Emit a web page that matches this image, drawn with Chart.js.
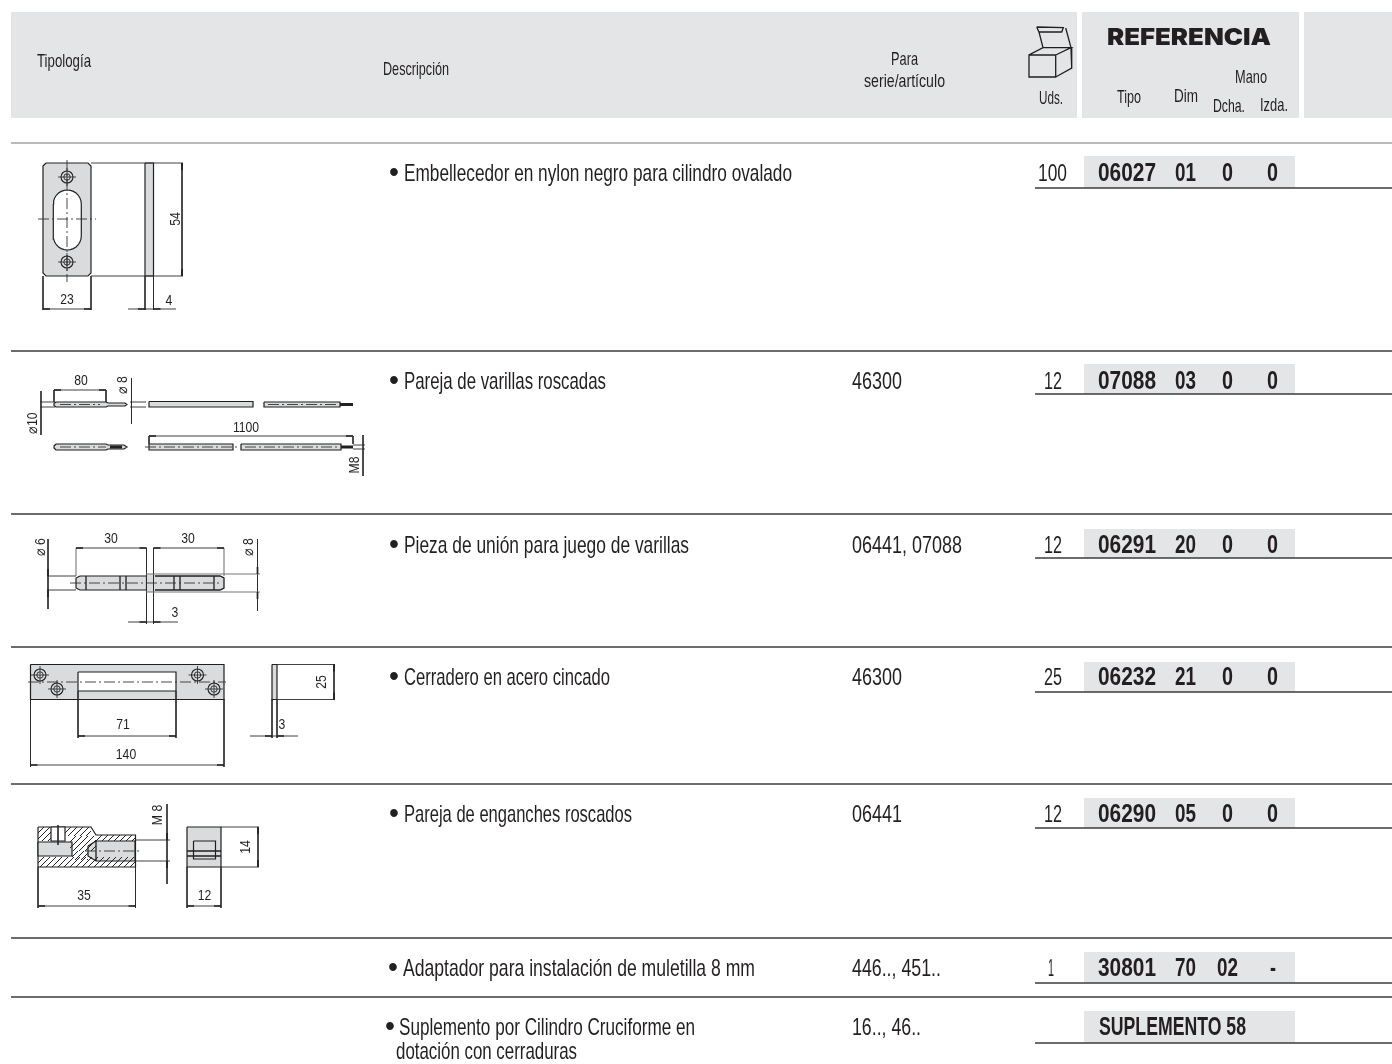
<!DOCTYPE html>
<html lang="es">
<head>
<meta charset="utf-8">
<title>Referencias</title>
<script src="https://cdn.jsdelivr.net/npm/chart.js@4"></script>
<style>
  html, body { margin: 0; padding: 0; background: #fff; }
  canvas { display: block; }
</style>
</head>
<body>
<canvas id="sheet" width="1392" height="1064"></canvas>
<script>
// ── table content ───────────────────────────────────────────────────────────
const descripcion = [
  "Embellecedor en nylon negro para cilindro ovalado",
  "Pareja de varillas roscadas",
  "Pieza de unión para juego de varillas",
  "Cerradero en acero cincado",
  "Pareja de enganches roscados",
  "Adaptador para instalación de muletilla 8 mm",
  "Suplemento por Cilindro Cruciforme en",
];
const descripcionExtra = "dotación con cerraduras";
const serie = ["", "46300", "06441, 07088", "46300", "06441", "446.., 451..", "16.., 46.."];
const uds   = ["100", "12", "12", "25", "12", "1", ""];
const tipo  = ["06027", "07088", "06291", "06232", "06290", "30801"];
const dim   = ["01", "03", "20", "21", "05", "70"];
const dcha  = ["0", "0", "0", "0", "0", "02"];
const izda  = ["0", "0", "0", "0", "0", "-"];
const suplemento = "SUPLEMENTO 58";

// ── layout, page units are px ───────────────────────────────────────────────
const W = 1392, H = 1064;
const rowRules = [143, 351, 514, 647, 784, 938, 997];
const rowText  = [174, 382, 546, 678, 815, 969, 1028];
const descEnd  = [792, 606, 689, 610, 632, 755, 695];
const descStart= [404, 404, 404, 404, 404, 403, 399];
const bulletX  = [389, 389, 389, 389, 389, 388, 385];
const serieEnd = [0, 902, 962, 902, 902, 941, 921];
const udsBox   = [[1038,1067],[1044,1062],[1044,1062],[1044,1062],[1044,1062],[1048,1054]];

const BAND = "#e4e5e7", PART = "#d9dbdc", INK = "#231f20";
const BODY = '"Liberation Sans Narrow", "Liberation Sans", sans-serif';
const DIM  = '"Liberation Sans", sans-serif';

const datasets = [];
const strokes = {
  rule:   { color: "#3d3d3d", width: 1.4 },
  thin:   { color: "#2b2b2b", width: 0.9 },
  soft:   { color: "#777777", width: 1.1 },
  edge:   { color: "#1f1f1f", width: 1.3 },
  axis:   { color: "#333333", width: 0.9, dash: [11, 3, 2, 3] },
  arrow:  { color: "#222222", width: 1.7 },
  hatch:  { color: "#222222", width: 1 },
  thread: { color: "#222222", width: 3 },
};
const strokeData = Object.fromEntries(Object.keys(strokes).map(k => [k, []]));

function poly(pts, fill, stroke) {
  const closed = pts.concat([pts[0]]).map(p => ({ x: p[0], y: p[1] }));
  datasets.push({
    data: closed, showLine: true, tension: 0, pointRadius: 0, spanGaps: false,
    fill: "shape", backgroundColor: fill,
    borderColor: stroke || "transparent", borderWidth: stroke ? 1.2 : 0,
  });
}
function rect(x0, y0, x1, y1, fill, stroke) {
  poly([[x0,y0],[x1,y0],[x1,y1],[x0,y1]], fill, stroke);
}
function line(style, ...c) {
  const d = strokeData[style];
  for (let i = 0; i < c.length; i += 2) d.push({ x: c[i], y: c[i+1] });
  d.push({ x: null, y: null });
}
function arrowH(x, y, dir) { line("arrow", x, y, x + dir*7, y); }
function arrowV(x, y, dir) { line("arrow", x, y, x, y + dir*7); }
function dimH(x0, x1, y) { line("thin", x0, y, x1, y); arrowH(x0, y, 1); arrowH(x1, y, -1); }
function dimV(x, y0, y1) { line("thin", x, y0, x, y1); arrowV(x, y0, 1); arrowV(x, y1, -1); }
function arc(cx, cy, r, from, to, n) {
  const out = [];
  for (let i = 0; i <= n; i++) {
    const a = (from + (to - from)*i/n) * Math.PI/180;
    out.push([cx + r*Math.cos(a), cy + r*Math.sin(a)]);
  }
  return out;
}
// diagonal section lines clipped to a box
function hatch(x0, y0, x1, y1, step) {
  for (let s = x0 + y0 + step; s < x1 + y1; s += step) {
    const ax = Math.max(x0, s - y1), ay = s - ax;
    const bx = Math.min(x1, s - y0), by = s - bx;
    if (bx > ax) line("hatch", ax, ay, bx, by);
  }
}

const holes = [[67,177],[67,262],[40,675],[57,689],[197.5,675],[214,689]];

// header bands
rect(11, 12, 1077, 118, BAND);
rect(1082, 12, 1299, 118, BAND);
rect(1304, 12, W, 118, BAND);

// reference cells and rules
[[156,188],[364,394],[529,558],[662,692],[798,828],[952,983],[1011,1043]].forEach(r => {
  rect(1084, r[0], 1295, r[1], BAND);
  line("rule", 1035, r[1], W, r[1]);
});
rowRules.forEach((y, i) => line(i ? "rule" : "soft", 11, y, W, y));

// box icon
line("edge", 1029,55, 1055.7,55, 1055.7,77, 1029,77, 1029,55, 1043,47.7, 1071,47.7, 1055.7,55);
line("edge", 1071,47.7, 1071.7,68, 1055.7,77);
line("edge", 1036.7,27, 1063.3,27.7, 1061.7,32, 1039,32, 1036.7,27);
line("edge", 1039,32, 1043,47.7);
line("edge", 1065.7,28, 1071,47.7);

// --- escutcheon
poly([[46,163],[88,163],[91,166],[91,273],[88,276],[46,276],[43,273],[43,166]], PART, "#222");
poly(arc(67.3,204,14,180,360,14).concat(arc(67.3,236,14,0,180,14)), "#fff", "#222");
rect(145, 163, 153.5, 276, PART, "#222");
line("thin", 91,163, 183,163); line("thin", 91,276, 183,276);
line("axis", 67,160, 67,282); line("axis", 38,219, 96,219);
dimV(182, 163, 276);
line("thin", 43,276, 43,310); line("thin", 91,276, 91,310);
dimH(43, 91, 309);
line("thin", 145,276, 145,310); line("thin", 153.5,276, 153.5,310);
line("thin", 128,309, 176,309); arrowH(145,309,-1); arrowH(153.5,309,1);

// --- threaded rods
poly([[56,402],[106,402],[108,403],[125,403],[127,404.5],[125,406],[108,406],[106,407],[56,407],[54,405.5],[54,403.5]], PART, "#1f1f1f");
rect(149, 401.5, 253, 407, PART, "#1f1f1f");
rect(264, 402, 340, 407, PART, "#1f1f1f");
line("thread", 340,404.5, 353,404.5);
poly([[56,444],[106,444],[108,445],[124,445],[127,447],[124,449],[108,449],[106,450],[56,450],[54,448],[54,446]], PART, "#1f1f1f");
line("thread", 110,447, 122,447);
rect(149, 444, 233, 450, PART, "#1f1f1f");
rect(241, 444, 341, 450, PART, "#1f1f1f");
line("thread", 341,447, 353,447);
line("axis", 60,404.5, 100,404.5); line("axis", 268,404.5, 338,404.5);
line("axis", 60,447, 106,447); line("axis", 145,447, 238,447); line("axis", 245,447, 340,447);
line("thin", 40,402, 55,402); line("thin", 40,407, 55,407); line("thin", 41,391, 41,435);
line("thin", 54,390, 54,402); line("thin", 106,390, 106,402); dimH(54, 106, 390);
line("thin", 130,402, 146,402); line("thin", 130,407, 146,407); line("thin", 131.5,378, 131.5,424);
line("thin", 149,436, 149,444); line("thin", 353,436, 353,444); dimH(149, 353, 436);
line("thin", 353,445, 365,445); line("thin", 353,449, 365,449); line("thin", 363,435, 363,476);

// --- joining piece
poly([[80,576],[146.5,576],[146.5,590],[80,590],[76,588],[76,578]], PART, "#1f1f1f");
rect(146.5, 574, 155, 592, PART);
poly([[155,576],[220,576],[224,578],[224,588],[220,590],[155,590]], PART);
line("edge", 155,576, 220,576, 224,578, 224,588, 220,590, 155,590);
[86,120,126,174,180,214].forEach(x => line("edge", x,576, x,590));
line("axis", 70,583, 220,583);
line("thin", 47,576, 76,576); line("thin", 47,590, 76,590);
line("soft", 146,574, 260,574); line("soft", 146,592, 260,592);
line("thin", 48,539, 48,609); arrowV(48,576,-1); arrowV(48,590,1);
line("thin", 257.5,539, 257.5,611); arrowV(257.5,574,-1); arrowV(257.5,592,1);
line("soft", 76,548, 76,576); line("soft", 224,548, 224,576);
line("thin", 146.5,548, 146.5,624); line("thin", 153.5,548, 153.5,624);
dimH(76, 146.5, 548); dimH(153.5, 224, 548);
line("thin", 128,622, 178,622); arrowH(146.5,622,-1); arrowH(153.5,622,1);

// --- strike plate
rect(30.5, 664.5, 224, 699.5, PART, "#1f1f1f");
poly([[78,672],[176,672],[176,691],[78,691]], "#fff", "#1f1f1f");
line("axis", 28,682, 226,682);
line("thin", 30.5,699, 30.5,767); line("thin", 224,699, 224,767);
line("thin", 78,691, 78,738); line("thin", 176,691, 176,738);
dimH(78, 176, 736); dimH(30.5, 224, 765);
rect(272, 664.5, 277, 699.5, PART, "#1f1f1f");
line("thin", 277,664.5, 335,664.5); line("thin", 277,699.5, 335,699.5);
dimV(334, 664.5, 699.5);
line("thin", 272,699, 272,738); line("thin", 277,699, 277,738);
line("thin", 250,736, 298,736); arrowH(272,736,-1); arrowH(277,736,1);

// --- threaded hook
poly([[38,827],[91,827],[96,835],[135.5,835],[135.5,867],[38,867]], "#fff", "#1f1f1f");
hatch(38,827,51,841,6); hatch(65,827,91,836,6); hatch(70,836,96,851,6); hatch(72,851,88,860,6);
hatch(96,835,135.5,841,6); hatch(38,857,135.5,867,6);
rect(38, 842, 72, 856, PART, "#1f1f1f");
poly([[88,846],[96,841],[135,841],[135,861],[96,861],[88,856]], PART, "#1f1f1f");
rect(51, 827, 65, 841, "#fff", "#1f1f1f");
line("edge", 96,841, 96,861);
line("thin", 58,825, 58,845);
line("axis", 85,851, 141,851);
line("thin", 135,840, 170,840); line("thin", 135,861, 170,861);
line("thin", 167,804, 167,884); arrowV(167,840,-1); arrowV(167,861,1);
line("thin", 38,867, 38,908); line("thin", 135.5,867, 135.5,908);
dimH(38, 135.5, 906);
rect(187, 827, 221, 867, PART, "#1f1f1f");
rect(193.5, 841, 215.5, 859, PART, "#1f1f1f");
line("edge", 187,851, 221,851); line("edge", 187,856, 221,856);
line("thin", 221,827, 259,827); line("thin", 221,867, 259,867);
dimV(258, 827, 867);
line("thin", 187,867, 187,908); line("thin", 221,867, 221,908);
dimH(187, 221, 906);

// stroke groups go above the fills
Object.keys(strokes).forEach(k => {
  const s = strokes[k];
  datasets.push({
    data: strokeData[k], showLine: true, tension: 0, pointRadius: 0, spanGaps: false,
    fill: false, borderColor: s.color, borderWidth: s.width, borderDash: s.dash || [],
  });
});
// mounting holes: rings and crosshairs through the scatter point styles
datasets.push({ data: holes.map(h => ({x:h[0],y:h[1]})), showLine: false, pointStyle: "cross",
  pointRadius: 9, pointBorderWidth: 0.8, pointBorderColor: "#222" });
datasets.push({ data: holes.map(h => ({x:h[0],y:h[1]})), showLine: false, pointStyle: "circle",
  pointRadius: 6, pointBorderWidth: 1.1, pointBorderColor: "#222", pointBackgroundColor: "transparent" });
datasets.push({ data: holes.map(h => ({x:h[0],y:h[1]})), showLine: false, pointStyle: "circle",
  pointRadius: 3.2, pointBorderWidth: 0.9, pointBorderColor: "#222", pointBackgroundColor: "transparent" });
datasets.forEach((d, i) => { d.order = -i; });

// ── text ────────────────────────────────────────────────────────────────────
const labels = [];
function label(text, x0, x1, y, size, opts) {
  labels.push(Object.assign({ text, x0, x1, y, size, family: BODY, weight: "normal", rot: 0 }, opts));
}
const BOLD = { weight: "bold" };
const S_HEAD = 19, S_BODY = 24, S_REF = 25;

label("Tipología", 37, 91, 62, S_HEAD);
label("Descripción", 383, 449, 70, S_HEAD);
label("Para", 891, 918, 60, S_HEAD);
label("serie/artículo", 864, 945, 82, S_HEAD);
label("Uds.", 1039, 1063, 99, S_HEAD);
label("REFERENCIA", 1107, 1271, 38, 23, { weight: "900", family: 'Inter, "DejaVu Sans", sans-serif' });
label("Mano", 1235, 1267, 78, S_HEAD);
label("Tipo", 1117, 1141, 98, S_HEAD);
label("Dim", 1174, 1198, 97, S_HEAD);
label("Dcha.", 1213, 1245, 107, S_HEAD);
label("Izda.", 1260, 1288, 106, S_HEAD);

descripcion.forEach((t, i) => {
  label("•", bulletX[i], bulletX[i] + 10, rowText[i], 30, { family: DIM });
  label(t, descStart[i], descEnd[i], rowText[i], S_BODY);
  if (serie[i]) label(serie[i], 852, serieEnd[i], rowText[i], S_BODY);
  if (uds[i]) label(uds[i], udsBox[i][0], udsBox[i][1], rowText[i], S_BODY);
});
label(descripcionExtra, 396, 577, 1052, S_BODY);
tipo.forEach((t, i) => {
  label(t, 1098, 1156, rowText[i], S_REF, BOLD);
  label(dim[i], 1175, 1196, rowText[i], S_REF, BOLD);
  if (dcha[i].length > 1) label(dcha[i], 1217, 1238, rowText[i], S_REF, BOLD);
  else label(dcha[i], 1222, 1233, rowText[i], S_REF, BOLD);
  if (izda[i] === "-") label(izda[i], 1270, 1276, rowText[i], S_REF, BOLD);
  else label(izda[i], 1267, 1278, rowText[i], S_REF, BOLD);
});
label(suplemento, 1099, 1246, rowText[6], S_REF, BOLD);

// dimension figures on the drawings
const dimLabels = [
  ["23", 67, 300, 0], ["4", 169, 301, 0], ["54", 176, 219, -90],
  ["80", 81, 381, 0], ["1100", 246, 428, 0], ["⌀10", 33, 423, -90], ["⌀ 8", 123, 385, -90], ["M8", 355, 465, -90],
  ["30", 111, 539, 0], ["30", 188, 539, 0], ["3", 175, 613, 0], ["⌀ 6", 41, 547, -90], ["⌀ 8", 249, 547, -90],
  ["71", 123, 725, 0], ["140", 126, 755, 0], ["25", 322, 682, -90], ["3", 282, 725, 0],
  ["35", 84, 896, 0], ["12", 204.5, 896, 0], ["14", 246, 847, -90], ["M 8", 158, 815, -90],
];

const textPlugin = {
  id: "sheetText",
  afterDatasetsDraw(chart) {
    const { ctx, scales: { x, y } } = chart;
    ctx.save();
    ctx.fillStyle = INK;
    ctx.textBaseline = "middle";
    labels.forEach(l => {
      ctx.font = `${l.weight} ${l.size}px ${l.family}`;
      const left = x.getPixelForValue(l.x0);
      const want = x.getPixelForValue(l.x1) - left;
      const got = ctx.measureText(l.text).width;
      ctx.save();
      ctx.translate(left, y.getPixelForValue(l.y));
      ctx.scale(want / got, 1);
      ctx.textAlign = "left";
      ctx.fillText(l.text, 0, 0);
      ctx.restore();
    });
    ctx.font = `14.5px ${DIM}`;
    ctx.textAlign = "center";
    dimLabels.forEach(([t, px, py, rot]) => {
      ctx.save();
      ctx.translate(x.getPixelForValue(px), y.getPixelForValue(py));
      ctx.rotate(rot * Math.PI / 180);
      ctx.scale(0.84, 1);
      ctx.fillText(t, 0, 0);
      ctx.restore();
    });
    ctx.restore();
  },
};

new Chart(document.getElementById("sheet"), {
  type: "scatter",
  data: { datasets },
  plugins: [textPlugin],
  options: {
    responsive: false, animation: false,
    layout: { padding: 0, autoPadding: false },
    plugins: { legend: { display: false }, tooltip: { enabled: false } },
    scales: {
      x: { type: "linear", min: 0, max: W, display: false },
      y: { type: "linear", min: 0, max: H, reverse: true, display: false },
    },
  },
});
</script>
</body>
</html>
